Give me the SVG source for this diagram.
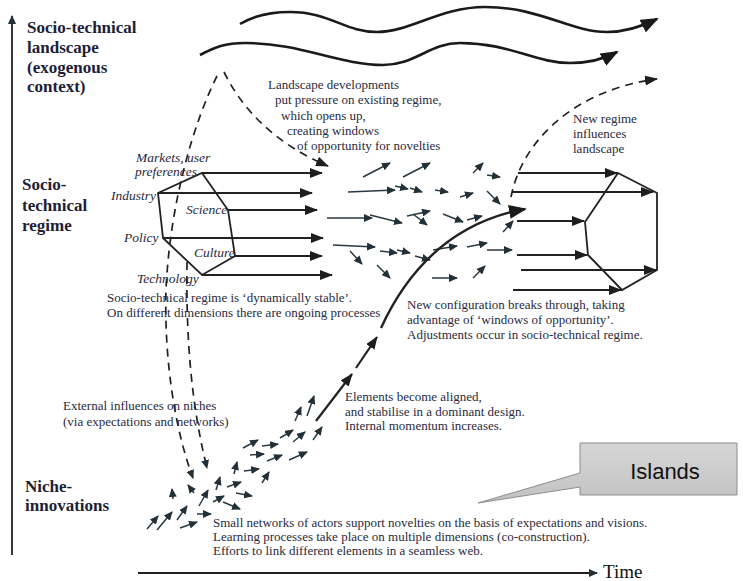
<svg xmlns="http://www.w3.org/2000/svg" width="743" height="581" viewBox="0 0 743 581">
<defs>
<marker id="big" markerUnits="userSpaceOnUse" markerWidth="18" markerHeight="14" refX="16" refY="7" orient="auto"><path d="M0,0 L18,7 L0,14 z" fill="#1a1a1a"/></marker>
<marker id="ah" markerUnits="userSpaceOnUse" markerWidth="13" markerHeight="10" refX="12" refY="5" orient="auto"><path d="M0,0 L13,5 L0,10 z" fill="#1e1e1e"/></marker>
<marker id="sm" markerUnits="userSpaceOnUse" markerWidth="9" markerHeight="8" refX="8" refY="4" orient="auto"><path d="M0,0 L9,4 L0,8 z" fill="#223038"/></marker>
<linearGradient id="gr" x1="0" y1="0" x2="0" y2="1"><stop offset="0" stop-color="#d6d6d6"/><stop offset="1" stop-color="#c2c2c2"/></linearGradient>
</defs>
<style>
.t{font-family:"Liberation Serif","Times New Roman",serif;fill:#2a2a3c;font-size:13px}
.b{font-family:"Liberation Serif","Times New Roman",serif;font-weight:bold;font-size:17px;fill:#1e1e36}
.i{font-style:italic;font-size:13.5px}
.ln{fill:none;stroke:#222;stroke-width:1.8}
.sa{fill:none;stroke:#2a3a42;stroke-width:1.5;marker-end:url(#sm)}
.ha{fill:none;stroke:#222;stroke-width:1.8;marker-end:url(#ah)}
.wv{fill:none;stroke:#1a1a1a;stroke-width:2.6;marker-end:url(#big)}
.d{fill:none;stroke:#222;stroke-width:1.7;stroke-dasharray:8 6}
</style>
<rect width="743" height="581" fill="#fff"/>

<g id="axes">
<line x1="12" y1="555" x2="12" y2="16" class="ln" stroke-width="1.5" style="marker-end:url(#sm)"/>
<line x1="138" y1="573" x2="597" y2="573" class="ln" stroke-width="1.5" style="marker-end:url(#sm)"/>
<text x="603" y="578" class="t" style="font-size:19px;fill:#111">Time</text>
</g>

<g id="landscape-label">
<text class="b" x="27" y="33">Socio-technical</text>
<text class="b" x="27" y="53">landscape</text>
<text class="b" x="27" y="73">(exogenous</text>
<text class="b" x="27" y="92">context)</text>
</g>
<g id="regime-label">
<text class="b" x="22" y="190">Socio-</text>
<text class="b" x="22" y="211">technical</text>
<text class="b" x="22" y="231">regime</text>
</g>
<g id="niche-label">
<text class="b" x="25" y="492">Niche-</text>
<text class="b" x="25" y="511">innovations</text>
</g>

<g id="landscape-waves">
<path class="wv" d="M240,24 C255,15 270,12 290,12 C330,12 345,32 377,32 C410,32 440,7 485,7 C540,7 570,32 607,32 C628,32 645,25 657,19"/>
<path class="wv" d="M200,55 C215,47 225,43 245,43 C300,43 340,65 383,65 C415,65 430,43 460,43 C510,43 535,63 570,63 C592,63 606,58 617,52"/>
</g>

<g id="regime-hexagon">
<polygon points="202,173 228,210 235,256 202,275 163,238 158,193" fill="none" stroke="#222" stroke-width="1.8"/>
<text class="t i" x="136" y="162">Markets, user</text>
<text class="t i" x="135" y="176">preferences</text>
<text class="t i" x="111" y="200">Industry</text>
<text class="t i" x="186" y="214">Science</text>
<text class="t i" x="124" y="242">Policy</text>
<text class="t i" x="194" y="257">Culture</text>
<text class="t i" x="137" y="283">Technology</text>
</g>

<g id="new-regime-hexagon">
<polygon points="618,173 657,193 657,270 622,290 588,255 585,222" fill="none" stroke="#222" stroke-width="1.8"/>
</g>

<g id="connectors">
<path class="d" d="M224,72 Q255,135 328,166" style="marker-end:url(#ah)"/>
<path class="d" d="M217,76 C195,120 170,200 166,290 C164,360 175,430 193,478" style="marker-end:url(#sm)"/>
<path class="d" d="M187,262 C186,330 190,400 207,468" style="marker-end:url(#sm)"/>
<path class="d" d="M511,197 C522,140 575,90 657,79" style="marker-end:url(#ah)"/>
<line class="ha" x1="202" y1="173" x2="322" y2="173"/>
<line class="ha" x1="158" y1="193" x2="312" y2="193"/>
<line class="ha" x1="228" y1="210" x2="317" y2="210"/>
<line class="ha" x1="163" y1="238" x2="323" y2="238"/>
<line class="ha" x1="235" y1="256" x2="322" y2="256"/>
<line class="ha" x1="202" y1="275" x2="332" y2="275"/>
<line class="ha" x1="518" y1="173" x2="617" y2="173"/>
<line class="ha" x1="512" y1="192" x2="653" y2="192"/>
<line class="ha" x1="517" y1="221" x2="584" y2="221"/>
<line class="ha" x1="517" y1="255" x2="587" y2="255"/>
<line class="ha" x1="521" y1="270" x2="656" y2="270"/>
<line class="ha" x1="513" y1="290" x2="621" y2="290"/>
<line class="sa" x1="363" y1="177" x2="390" y2="163"/>
<line class="sa" x1="403" y1="177" x2="430" y2="163"/>
<line class="sa" x1="348" y1="192" x2="395" y2="190"/>
<line class="sa" x1="395" y1="186" x2="408" y2="189"/>
<line class="sa" x1="410" y1="188" x2="422" y2="192"/>
<line class="sa" x1="435" y1="190" x2="448" y2="192"/>
<line class="sa" x1="460" y1="197" x2="473" y2="193"/>
<line class="sa" x1="473" y1="173" x2="483" y2="163"/>
<line class="sa" x1="487" y1="175" x2="500" y2="177"/>
<line class="sa" x1="487" y1="191" x2="500" y2="204"/>
<line class="sa" x1="327" y1="218" x2="372" y2="218"/>
<line class="sa" x1="370" y1="215" x2="402" y2="223"/>
<line class="sa" x1="407" y1="216" x2="430" y2="211"/>
<line class="sa" x1="413" y1="214" x2="427" y2="225"/>
<line class="sa" x1="443" y1="214" x2="463" y2="222"/>
<line class="sa" x1="467" y1="220" x2="482" y2="216"/>
<line class="sa" x1="503" y1="232" x2="513" y2="221"/>
<line class="sa" x1="333" y1="245" x2="375" y2="247"/>
<line class="sa" x1="350" y1="251" x2="362" y2="264"/>
<line class="sa" x1="380" y1="251" x2="397" y2="253"/>
<line class="sa" x1="397" y1="250" x2="410" y2="253"/>
<line class="sa" x1="415" y1="256" x2="430" y2="260"/>
<line class="sa" x1="433" y1="250" x2="457" y2="246"/>
<line class="sa" x1="467" y1="247" x2="487" y2="243"/>
<line class="sa" x1="487" y1="250" x2="512" y2="250"/>
<line class="sa" x1="377" y1="265" x2="390" y2="278"/>
<line class="sa" x1="432" y1="278" x2="457" y2="278"/>
<line class="sa" x1="473" y1="278" x2="485" y2="266"/>
<line class="sa" x1="147" y1="529" x2="158" y2="516"/>
<line class="sa" x1="157" y1="530" x2="172" y2="512"/>
<line class="sa" x1="177" y1="520" x2="187" y2="506"/>
<line class="sa" x1="180" y1="528" x2="197" y2="522"/>
<line class="sa" x1="197" y1="514" x2="211" y2="514"/>
<line class="sa" x1="173" y1="499" x2="172" y2="489"/>
<line class="sa" x1="194" y1="493" x2="188" y2="485"/>
<line class="sa" x1="199" y1="506" x2="208" y2="490"/>
<line class="sa" x1="213" y1="502" x2="224" y2="496"/>
<line class="sa" x1="216" y1="490" x2="220" y2="477"/>
<line class="sa" x1="223" y1="502" x2="240" y2="509"/>
<line class="sa" x1="227" y1="487" x2="241" y2="482"/>
<line class="sa" x1="236" y1="493" x2="252" y2="496"/>
<line class="sa" x1="234" y1="474" x2="237" y2="462"/>
<line class="sa" x1="244" y1="471" x2="259" y2="469"/>
<line class="sa" x1="262" y1="483" x2="269" y2="472"/>
<line class="sa" x1="243" y1="448" x2="258" y2="440"/>
<line class="sa" x1="262" y1="446" x2="278" y2="444"/>
<line class="sa" x1="250" y1="455" x2="264" y2="454"/>
<line class="sa" x1="267" y1="461" x2="282" y2="455"/>
<line class="sa" x1="280" y1="438" x2="293" y2="430"/>
<line class="sa" x1="289" y1="460" x2="307" y2="452"/>
<line class="sa" x1="293" y1="442" x2="305" y2="432"/>
<line class="sa" x1="295" y1="421" x2="301" y2="407"/>
<line class="sa" x1="307" y1="416" x2="314" y2="396"/>
<line class="sa" x1="313" y1="440" x2="322" y2="427"/>
<line class="ln" x1="316" y1="421" x2="352" y2="374" style="stroke-width:2.2;marker-end:url(#ah)"/>
<line class="ln" x1="356" y1="368" x2="377" y2="337" style="stroke-width:2.2;marker-end:url(#ah)"/>
<path class="ln" d="M381,328 C410,265 455,222 525,209" style="stroke-width:2.4;marker-end:url(#big)"/>
</g>

<g id="texts">
<text class="t"><tspan x="268" y="89">Landscape  developments</tspan><tspan x="275" y="104">put pressure on existing regime,</tspan><tspan x="281" y="120">which opens up,</tspan><tspan x="287" y="135">creating windows</tspan><tspan x="297" y="150">of opportunity for novelties</tspan></text>
<text class="t"><tspan x="573" y="123">New  regime</tspan><tspan x="573" y="138">influences</tspan><tspan x="573" y="153">landscape</tspan></text>
<text class="t"><tspan x="107" y="302">Socio-technical regime  is ‘dynamically stable’.</tspan><tspan x="107" y="317">On different dimensions there are ongoing processes</tspan></text>
<text class="t"><tspan x="407" y="309">New configuration breaks through, taking</tspan><tspan x="407" y="324">advantage of ‘windows of opportunity’.</tspan><tspan x="407" y="339">Adjustments occur in socio-technical regime.</tspan></text>
<text class="t"><tspan x="345" y="401">Elements become aligned,</tspan><tspan x="345" y="416">and stabilise in a dominant design.</tspan><tspan x="345" y="430">Internal momentum increases.</tspan></text>
<text class="t"><tspan x="63" y="410">External influences on niches</tspan><tspan x="63" y="426">(via expectations and networks)</tspan></text>
<text class="t"><tspan x="213" y="527">Small networks of actors support novelties on the basis of expectations and visions.</tspan><tspan x="213" y="541">Learning processes take place on multiple dimensions (co-construction).</tspan><tspan x="213" y="555">Efforts to link different elements in a seamless web.</tspan></text>
</g>

<g id="islands">
<path d="M580,443 L737,443 L737,495 L580,495 L580,487 L478,503 L580,473 Z" fill="url(#gr)" stroke="#8c8c8c" stroke-width="1"/>
<text x="665" y="479" text-anchor="middle" style="font-family:'Liberation Sans',Arial,sans-serif;font-size:22px;fill:#111">Islands</text>
</g>
</svg>
